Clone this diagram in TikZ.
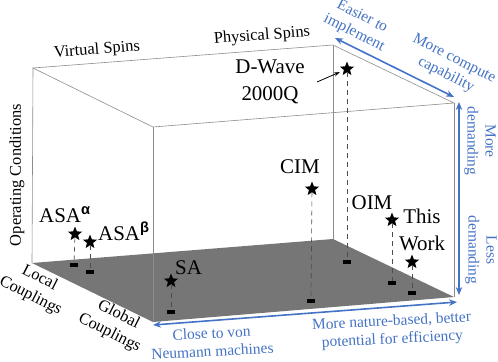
\documentclass[tikz,border=0pt]{standalone}
\usepackage{fontspec}
\setmainfont{Liberation Serif}
\setsansfont{Liberation Sans}
\usepackage{tikz}
\usetikzlibrary{shapes.geometric, arrows.meta}
\definecolor{accent}{RGB}{68, 114, 196}
\definecolor{floor}{RGB}{118, 118, 118}

\begin{document}
\begin{tikzpicture}[x=1bp, y=-1bp,
    boxline/.style={draw=black!45, line width=0.6pt},
    sample/.style={star, star points=5, star point ratio=2.3, fill=black, inner sep=0pt, minimum size=15pt},
    foot/.style={fill=black, inner sep=0pt, minimum width=8pt, minimum height=4pt},
    drop/.style={black!70, line width=0.6pt, dash pattern=on 5pt off 4pt},
    trend/.style={accent, line width=1.6pt, {Stealth[length=8pt, width=6.5pt]}-{Stealth[length=8pt, width=6.5pt]}},
    pointer/.style={black, line width=0.8pt, -{Stealth[length=6pt, width=4pt]}, shorten >=4pt},
    machine/.style={font=\fontsize{21}{27}\selectfont, align=center, inner sep=0pt},
    axislabel/.style={font=\fontsize{16.5}{20}\selectfont, align=center, inner sep=0pt},
    note/.style={text=accent, font=\fontsize{15.5}{18}\selectfont, align=center, inner sep=0pt}]
        \useasboundingbox (0,0) rectangle (498,361);
        % Box corners
        \coordinate (btl) at (33,68);
        \coordinate (btr) at (333,45);
        \coordinate (ftl) at (153,127);
        \coordinate (ftr) at (454,103);
        \coordinate (bbl) at (32,263);
        \coordinate (bbr) at (333,239);
        \coordinate (fbl) at (153,322);
        \coordinate (fbr) at (454,297);
        % Floor
        \fill[floor] (bbl) -- (bbr) -- (fbr) -- (fbl) -- cycle;
        % Edges
        \draw[boxline] (btl) -- (btr) -- (ftr) -- (ftl) -- cycle;
        \draw[boxline] (btl) -- (bbl);
        \draw[boxline] (btr) -- (bbr);
        \draw[boxline] (ftl) -- (fbl);
        \draw[boxline] (ftr) -- (fbr);
        % Axis labels
        \node[axislabel, rotate=4.5] (virt) at (97,50) {Virtual Spins};
        \node[axislabel, rotate=4.5] (phys) at (262,36) {Physical Spins};
        \node[axislabel, rotate=90] (opc) at (17,175) {Operating Conditions};
        \node[axislabel, rotate=-27] (loc) at (35,287) {Local\\Couplings};
        \node[axislabel, rotate=-27] (glob) at (114,324) {Global\\Couplings};
        % Machines
        \node[sample] (dw) at (347,69) {};
        \node[foot] (dwf) at (347,262) {};
        \draw[drop] (dw) -- (dwf);
        \node[machine] (dwl) at (270,82) {D-Wave\\2000Q};
        \coordinate (dwa) at (317,82);
        \draw[pointer] (dwa) -- (dw);
        \node[sample] (cim) at (312,189) {};
        \node[foot] (cimf) at (311,301) {};
        \draw[drop] (cim) -- (cimf);
        \node[machine] (ciml) at (300,167) {CIM};
        \node[sample] (oim) at (392,220) {};
        \node[foot] (oimf) at (392,283) {};
        \draw[drop] (oim) -- (oimf);
        \node[machine] (oiml) at (372,203) {OIM};
        \node[sample] (tw) at (412,262) {};
        \node[foot] (twf) at (412,293) {};
        \draw[drop] (tw) -- (twf);
        \node[machine] (twl) at (422,230) {This\\Work};
        \node[sample] (asaa) at (75,234) {};
        \node[foot] (asaaf) at (74,265) {};
        \draw[drop] (asaa) -- (asaaf);
        \node[machine, anchor=base west] (asaal) at (39,222) {ASA\textsuperscript{\sffamily\bfseries α}};
        \node[sample] (asab) at (90,242) {};
        \node[foot] (asabf) at (90,272) {};
        \draw[drop] (asab) -- (asabf);
        \node[machine, anchor=base west] (asabl) at (98,240) {ASA\textsuperscript{\sffamily\bfseries β}};
        \node[sample] (sa) at (171,281) {};
        \node[foot] (saf) at (171,312) {};
        \draw[drop] (sa) -- (saf);
        \node[machine, anchor=base west] (sal) at (175,274) {SA};
        % Trend arrows
        \coordinate (ea) at (335,38);
        \coordinate (eb) at (454,97);
        \draw[trend] (ea) -- (eb);
        \coordinate (da) at (459,102);
        \coordinate (db) at (459,295);
        \draw[trend] (da) -- (db);
        \coordinate (na) at (153,325);
        \coordinate (nb) at (457,302);
        \draw[trend] (na) -- (nb);
        \node[note, rotate=-27] (easy) at (358,25) {Easier to\\implement};
        \node[note, rotate=-27] (comp) at (450,67) {More compute\\capability};
        \node[note, rotate=-90] (more) at (480,141) {More\\demanding};
        \node[note, rotate=-90] (less) at (481,250) {Less\\demanding};
        \node[note, rotate=3] (vonn) at (212,342) {Close to von\\Neumann machines};
        \node[note, rotate=3] (natb) at (392,331) {More nature-based, better\\potential for efficiency};
\end{tikzpicture}
\end{document}
